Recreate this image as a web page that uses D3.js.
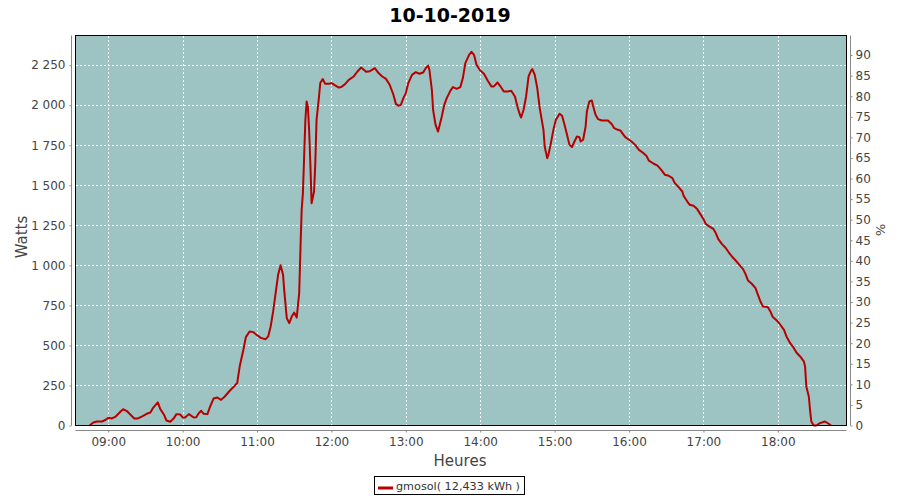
<!DOCTYPE html>
<html><head><meta charset="utf-8">
<script src="https://cdn.jsdelivr.net/npm/d3@7/dist/d3.min.js"></script>
<style>
html,body{margin:0;padding:0;background:#fff;}
svg{display:block;}
text{font-family:"DejaVu Sans",sans-serif;}
</style></head><body>
<svg id="chart" width="900" height="500"></svg>
<script>
const title = "10-10-2019";
const seriesName = "gmosol( 12,433 kWh )";
const hourTicks = ["09:00","10:00","11:00","12:00","13:00","14:00","15:00","16:00","17:00","18:00"];
const wattTicks = [0,250,500,750,1000,1250,1500,1750,2000,2250];
const pctTicks = [0,5,10,15,20,25,30,35,40,45,50,55,60,65,70,75,80,85,90];
const times = ["08:45","08:48","08:51","08:55","08:58","09:00","09:03","09:06","09:10","09:12","09:15","09:18","09:21","09:24","09:27","09:31","09:34","09:36","09:40","09:42","09:45","09:47","09:50","09:53","09:55","09:58","10:00","10:02","10:05","10:09","10:11","10:13","10:15","10:17","10:20","10:22","10:25","10:28","10:31","10:34","10:38","10:41","10:44","10:46","10:49","10:51","10:54","10:57","11:00","11:03","11:07","11:09","11:11","11:13","11:15","11:17","11:19","11:21","11:22","11:24","11:26","11:28","11:30","11:32","11:34","11:35","11:36","11:37","11:38","11:39","11:40","11:41","11:42","11:43","11:44","11:46","11:47","11:48","11:50","11:51","11:53","11:55","11:58","12:00","12:03","12:06","12:08","12:11","12:14","12:18","12:21","12:24","12:28","12:31","12:35","12:38","12:41","12:44","12:47","12:50","12:52","12:54","12:56","12:58","13:00","13:02","13:05","13:08","13:11","13:14","13:16","13:18","13:19","13:21","13:22","13:24","13:26","13:27","13:29","13:31","13:33","13:36","13:38","13:41","13:44","13:46","13:48","13:51","13:53","13:55","13:57","14:00","14:03","14:06","14:09","14:11","14:14","14:16","14:19","14:22","14:25","14:28","14:30","14:32","14:33","14:35","14:37","14:39","14:41","14:42","14:44","14:46","14:48","14:51","14:52","14:54","14:55","14:57","14:59","15:01","15:04","15:06","15:08","15:10","15:12","15:14","15:16","15:18","15:20","15:21","15:23","15:25","15:26","15:28","15:30","15:31","15:33","15:35","15:38","15:41","15:43","15:46","15:48","15:51","15:53","15:55","15:57","16:00","16:02","16:05","16:08","16:11","16:14","16:16","16:20","16:23","16:26","16:29","16:32","16:35","16:37","16:40","16:43","16:44","16:47","16:49","16:52","16:55","16:57","17:00","17:02","17:05","17:08","17:10","17:12","17:15","17:18","17:20","17:23","17:26","17:29","17:32","17:34","17:36","17:39","17:42","17:44","17:46","17:48","17:52","17:54","17:56","18:00","18:02","18:05","18:07","18:10","18:13","18:15","18:18","18:21","18:22","18:23","18:25","18:26","18:27","18:29","18:31","18:34","18:38","18:41","18:43"];
const watts = [0,19,25,25,36,48,44,56,87,102,90,67,44,44,56,73,81,108,144,102,67,31,23,46,71,69,50,50,71,50,52,77,92,73,71,115,169,175,160,181,217,240,265,368,473,552,587,583,564,547,539,556,618,712,827,941,1001,941,837,670,639,680,705,674,827,1097,1347,1451,1679,1908,2023,1992,1846,1638,1388,1461,1638,1908,2054,2138,2163,2133,2133,2138,2123,2110,2113,2131,2158,2179,2210,2235,2208,2212,2231,2200,2179,2164,2127,2065,2008,1996,2002,2044,2075,2138,2189,2206,2196,2204,2231,2247,2221,2096,1971,1877,1835,1867,1929,2002,2044,2091,2113,2102,2113,2169,2262,2314,2333,2314,2252,2216,2196,2154,2117,2117,2141,2121,2085,2085,2090,2054,1992,1940,1923,1971,2054,2179,2216,2225,2189,2106,1981,1846,1742,1669,1690,1763,1846,1908,1946,1934,1877,1815,1752,1738,1773,1804,1800,1773,1784,1867,1960,2023,2029,1996,1940,1913,1904,1904,1904,1882,1857,1846,1842,1821,1800,1784,1773,1752,1721,1704,1684,1654,1634,1623,1596,1565,1559,1544,1513,1488,1461,1434,1398,1378,1372,1351,1326,1289,1257,1242,1228,1201,1164,1132,1108,1086,1055,1030,1003,976,945,905,885,858,816,774,743,739,712,677,649,629,597,556,514,483,456,431,400,368,243,181,98,25,0,0,15,25,11,0];

const svg = d3.select("#chart");
const L = 75.5, R = 846.5, T = 35.5, B = 425.5;
const parseHM = d3.timeParse("%H:%M");
const parseHMS = d3.timeParse("%H:%M:%S");
const x = d3.scaleTime().domain([parseHMS("08:33:36"), parseHMS("18:55:24")]).range([L, R]);
const y = d3.scaleLinear().domain([0, 2434.8]).range([B, T]);
const y2 = d3.scaleLinear().domain([0, 94.76]).range([B, T]);
const loc = d3.formatLocale({decimal:",", thousands:" ", grouping:[3], currency:["",""]});
const fmt = loc.format(",d");
const tickDates = hourTicks.map(parseHM);

// plot background
svg.append("rect").attr("x", L).attr("y", T).attr("width", R-L).attr("height", B-T).attr("fill", "#9ec3c3");

// gridlines
const grid = svg.append("g").attr("stroke", "#fff").attr("stroke-width", 1).attr("stroke-dasharray", "2,2").attr("shape-rendering","crispEdges");
grid.selectAll("line.h").data(wattTicks.filter(d=>d>0)).join("line")
  .attr("x1", L).attr("x2", R).attr("y1", d=>Math.round(y(d))+0.5).attr("y2", d=>Math.round(y(d))+0.5);
grid.selectAll("line.v").data(tickDates).join("line")
  .attr("y1", T).attr("y2", B).attr("x1", d=>Math.round(x(d))+0.5).attr("x2", d=>Math.round(x(d))+0.5);

// line
const data = times.map((t,i)=>({t:parseHM(t), v:watts[i]}));
svg.append("path").datum(data)
  .attr("fill","none").attr("stroke","#b80000").attr("stroke-width",2).attr("stroke-linejoin","round")
  .attr("d", d3.line().x(d=>x(d.t)).y(d=>y(d.v)));

// border
svg.append("rect").attr("x", L).attr("y", T).attr("width", R-L).attr("height", B-T)
  .attr("fill","none").attr("stroke","#000").attr("stroke-width",1).attr("shape-rendering","crispEdges");

// axes
function styleAxis(g){
  g.selectAll(".domain").attr("stroke","#888");
  g.selectAll(".tick line").attr("stroke","#888");
  g.selectAll(".tick text").attr("fill","#444").style("font-family","'DejaVu Sans',sans-serif").style("font-size","12px");
}
const yAxis = d3.axisLeft(y).tickValues(wattTicks).tickFormat(fmt).tickSize(2).tickSizeOuter(0).tickPadding(4);
svg.append("g").attr("transform","translate(71.5,0)").call(yAxis).call(styleAxis)
  .select(".domain").attr("d", `M0,${T}V${B}`);
const y2Axis = d3.axisRight(y2).tickValues(pctTicks).tickFormat(d3.format("d")).tickSize(2).tickSizeOuter(0).tickPadding(3);
svg.append("g").attr("transform","translate(850.5,0)").call(y2Axis).call(styleAxis)
  .select(".domain").attr("d", `M0,${T}V${B}`);
const xAxis = d3.axisBottom(x).tickValues(tickDates).tickFormat(d3.timeFormat("%H:%M")).tickSize(2).tickSizeOuter(0).tickPadding(5);
svg.append("g").attr("transform","translate(0,430.5)").call(xAxis).call(styleAxis)
  .select(".domain").attr("d", `M${L},0H${R}`);

// titles
svg.append("text").attr("x",450).attr("y",22).attr("text-anchor","middle")
  .style("font-size","19px").style("font-weight","bold").attr("fill","#000").text(title);
svg.append("text").attr("transform","translate(27,237) rotate(-90)").attr("text-anchor","middle")
  .style("font-size","15px").attr("fill","#444").text("Watts");
svg.append("text").attr("x",460).attr("y",466).attr("text-anchor","middle")
  .style("font-size","15px").attr("fill","#444").text("Heures");
svg.append("text").attr("transform","translate(876,230) rotate(90)").attr("text-anchor","middle")
  .style("font-size","13px").attr("fill","#444").text("%");

// legend
const lg = svg.append("g");
lg.append("rect").attr("x",374.5).attr("y",476.5).attr("width",150).attr("height",18)
  .attr("fill","#fff").attr("stroke","#000").attr("stroke-width",1).attr("shape-rendering","crispEdges");
lg.append("line").attr("x1",378).attr("x2",393).attr("y1",488).attr("y2",488).attr("stroke","#b80000").attr("stroke-width",3);
lg.append("text").attr("x",396).attr("y",490).style("font-size","11px").attr("fill","#333")
  .attr("textLength",124).attr("lengthAdjust","spacingAndGlyphs").text(seriesName);
</script>
</body></html>
